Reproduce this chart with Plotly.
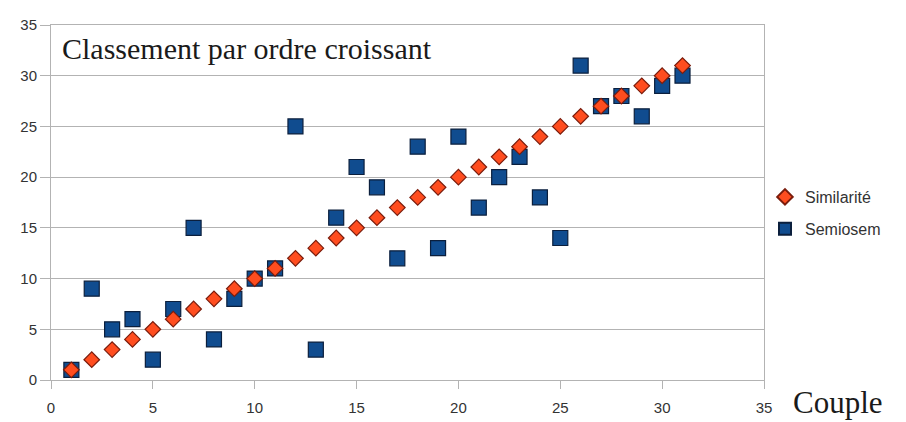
import plotly.graph_objects as go

# Couples 1..31 ranked by two methods
couples = list(range(1, 32))
similarite = [1, 2, 3, 4, 5, 6, 7, 8, 9, 10, 11, 12, 13, 14, 15, 16,
              17, 18, 19, 20, 21, 22, 23, 24, 25, 26, 27, 28, 29, 30, 31]
semiosem = [1, 9, 5, 6, 2, 7, 15, 4, 8, 10, 11, 25, 3, 16, 21, 19,
            12, 23, 13, 24, 17, 20, 22, 18, 14, 31, 27, 28, 26, 29, 30]

W, H = 906, 422
L, R, T, B = 51, 142, 25, 42

fig = go.Figure()

fig.add_trace(go.Scatter(
    x=couples, y=semiosem, mode="markers", name="Semiosem",
    legendgroup="b", legendrank=2,
    marker=dict(symbol="square", size=15, color="#104c8f",
                line=dict(color="#0b1f3d", width=1.2)),
))
fig.add_trace(go.Scatter(
    x=couples, y=similarite, mode="markers", name="Similarité",
    legendgroup="a", legendrank=1,
    marker=dict(symbol="diamond", size=12, color="#ff4d1f",
                line=dict(color="#7a1c0c", width=1.2)),
))

axis_font = dict(family="Liberation Sans, Arial, sans-serif", size=15, color="#333333")

fig.update_xaxes(
    range=[0, 35], tickvals=[0, 5, 10, 15, 20, 25, 30, 35],
    showgrid=False, zeroline=False,
    showline=True, linecolor="#b3b3b3", linewidth=1, mirror=True,
    ticks="outside", ticklen=8, tickcolor="#b3b3b3",
    ticklabelstandoff=6,
    tickfont=axis_font,
)
fig.update_yaxes(
    range=[0, 35], tickvals=[0, 5, 10, 15, 20, 25, 30, 35],
    showgrid=True, gridcolor="#b3b3b3", gridwidth=1, zeroline=False,
    showline=True, linecolor="#b3b3b3", linewidth=1, mirror=True,
    ticks="outside", ticklen=10, tickcolor="#b3b3b3",
    tickfont=axis_font,
)

fig.add_annotation(
    text="Classement par ordre croissant", xref="paper", yref="paper",
    x=0.012, y=0.935, xanchor="left", yanchor="middle", showarrow=False,
    font=dict(family="Liberation Serif, Times New Roman, serif", size=30, color="#1a1a1a"),
)
fig.add_annotation(
    text="Couple", xref="paper", yref="paper",
    x=(791 - L) / (W - L - R), y=-(403 - (H - B)) / (H - T - B),
    xanchor="left", yanchor="middle", showarrow=False,
    font=dict(family="Liberation Serif, Times New Roman, serif", size=31, color="#1a1a1a"),
)

fig.update_layout(
    width=W, height=H,
    margin=dict(l=L, r=R, t=T, b=B, autoexpand=False),
    paper_bgcolor="white", plot_bgcolor="white",
    showlegend=True,
    legend=dict(
        xref="container", yref="container",
        x=765 / W, y=1 - 180 / H, xanchor="left", yanchor="top",
        font=dict(family="Liberation Sans, Arial, sans-serif", size=16, color="#333333"),
        tracegroupgap=8, itemsizing="constant",
        bgcolor="rgba(0,0,0,0)",
    ),
)

fig.write_html("out.html")
